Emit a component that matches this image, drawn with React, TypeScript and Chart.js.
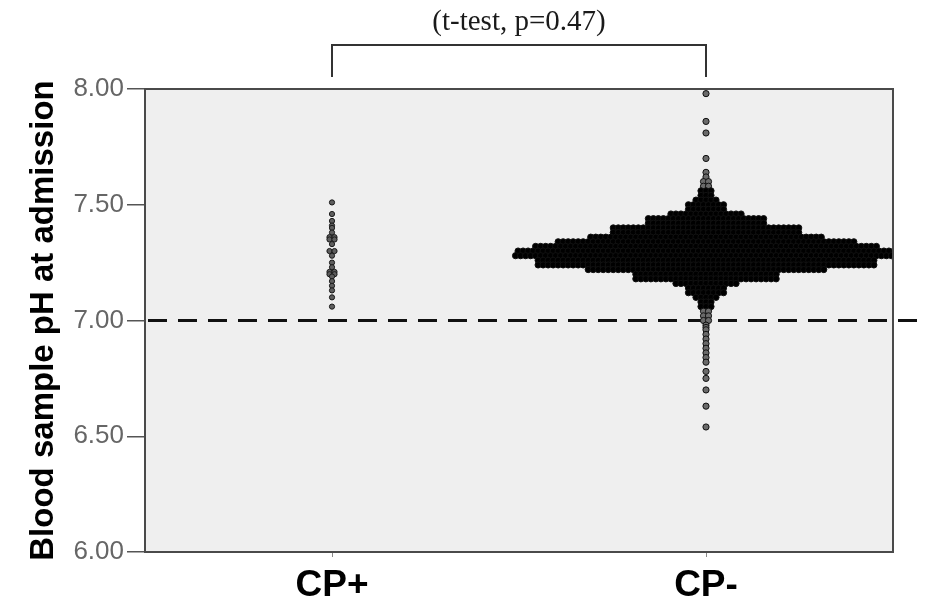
import React, { useEffect, useRef } from 'react';
import { Chart, registerables } from 'chart.js';

Chart.register(...registerables);

// ---- data ----
const CATEGORIES = ['CP+', 'CP-'];
const Y_TICKS = [6.0, 6.5, 7.0, 7.5, 8.0];
const REFERENCE_PH = 7.0;
const ANNOTATION = '(t-test, p=0.47)';
const Y_TITLE = 'Blood sample pH at admission';

// CP+ : pH bins and number of cases in each bin
const CP_PLUS_PH = [7.51, 7.46, 7.43, 7.41, 7.40, 7.38, 7.36, 7.35, 7.33, 7.30, 7.28, 7.25, 7.23, 7.21, 7.20, 7.19, 7.17, 7.15, 7.13, 7.10, 7.06];
const CP_PLUS_COUNT = [1, 1, 1, 1, 1, 1, 2, 2, 1, 2, 1, 1, 1, 2, 2, 1, 1, 1, 1, 1, 1];

// CP- : pH bins and number of cases in each bin
const CP_MINUS_PH = [
  7.98, 7.86, 7.81, 7.70, 7.64,
  7.62, 7.60, 7.58, 7.56, 7.54, 7.52, 7.50, 7.48, 7.46, 7.44, 7.42, 7.40, 7.38, 7.36, 7.34, 7.32,
  7.30, 7.28, 7.26, 7.24, 7.22, 7.20, 7.18, 7.16, 7.14, 7.12, 7.10, 7.08, 7.06, 7.04, 7.02, 7.00,
  6.98, 6.97, 6.96, 6.94, 6.92, 6.90, 6.88, 6.86, 6.84, 6.82, 6.78, 6.75, 6.70, 6.63, 6.54,
];
const CP_MINUS_COUNT = [
  1, 1, 1, 1, 1,
  1, 2, 2, 3, 3, 5, 8, 8, 15, 24, 24, 38, 38, 47, 60, 69,
  76, 77, 68, 68, 48, 29, 29, 13, 8, 8, 5, 3, 3, 2, 2, 2,
  1, 1, 1, 1, 1, 1, 1, 1, 1, 1, 1, 1, 1, 1, 1,
];

// ---- layout / style constants ----
const DOT_STEP = 0.0134; // horizontal spacing of stacked dots, in x-axis units

function dotColumn(center: number, phs: number[], counts: number[]) {
  const pts: { x: number; y: number }[] = [];
  const fills: string[] = [];
  phs.forEach((ph, i) => {
    const n = counts[i];
    for (let k = 0; k < n; k++) {
      pts.push({ x: center + (k - (n - 1) / 2) * DOT_STEP, y: ph });
      fills.push(n >= 3 ? '#000000' : '#6a6a6a');
    }
  });
  return { pts, fills };
}

const decorPlugin = {
  id: 'decor',
  beforeDraw(chart: any) {
    const { ctx, chartArea } = chart;
    const { left, top, right, bottom } = chartArea;
    ctx.save();
    ctx.fillStyle = '#ffffff';
    ctx.fillRect(0, 0, chart.width, chart.height);
    ctx.fillStyle = '#efefef';
    ctx.fillRect(left, top, right - left, bottom - top);
    ctx.restore();
  },
  beforeDatasetsDraw(chart: any) {
    const { ctx, chartArea, scales } = chart;
    const y = scales.y.getPixelForValue(REFERENCE_PH);
    ctx.save();
    ctx.strokeStyle = '#111';
    ctx.lineWidth = 3;
    ctx.setLineDash([19, 11]);
    ctx.beginPath();
    ctx.moveTo(chartArea.left + 3, y);
    ctx.lineTo(chartArea.right + 24, y);
    ctx.stroke();
    ctx.restore();
  },
  afterDatasetsDraw(chart: any) {
    const { ctx, chartArea, scales } = chart;
    const { left, top, right, bottom } = chartArea;
    ctx.save();
    // plot frame
    ctx.strokeStyle = '#4a4a4a';
    ctx.lineWidth = 2;
    ctx.strokeRect(left, top, right - left, bottom - top);
    // bracket
    const x1 = scales.x.getPixelForValue(0.5);
    const x2 = scales.x.getPixelForValue(1.5);
    ctx.strokeStyle = '#333';
    ctx.lineWidth = 2;
    ctx.beginPath();
    ctx.moveTo(x1, top - 12);
    ctx.lineTo(x1, top - 44);
    ctx.lineTo(x2, top - 44);
    ctx.lineTo(x2, top - 12);
    ctx.stroke();
    // annotation text
    ctx.fillStyle = '#1a1a1a';
    ctx.font = '29px "Liberation Serif", "Times New Roman", serif';
    ctx.textAlign = 'center';
    ctx.textBaseline = 'middle';
    ctx.fillText(ANNOTATION, (x1 + x2) / 2, top - 67);
    ctx.restore();
  },
};

export default function App() {
  const ref = useRef<HTMLCanvasElement | null>(null);

  useEffect(() => {
    if (!ref.current) return;
    const plus = dotColumn(0.5, CP_PLUS_PH, CP_PLUS_COUNT);
    const minus = dotColumn(1.5, CP_MINUS_PH, CP_MINUS_COUNT);
    const chart = new Chart(ref.current, {
      type: 'scatter',
      data: {
        datasets: [
          {
            label: CATEGORIES[0],
            data: plus.pts,
            backgroundColor: '#5e5e5e',
            borderColor: '#1a1a1a',
            borderWidth: 1,
            pointRadius: 2.6,
          },
          {
            label: CATEGORIES[1],
            data: minus.pts,
            backgroundColor: minus.fills,
            borderColor: '#111111',
            borderWidth: 1,
            pointRadius: 3.1,
          },
        ],
      },
      options: {
        responsive: false,
        animation: false,
        devicePixelRatio: 1,
        layout: { padding: { top: 89, right: 32, bottom: 0, left: 0 } },
        plugins: {
          legend: { display: false },
          tooltip: { enabled: false },
        },
        scales: {
          x: {
            type: 'linear',
            min: 0,
            max: 2,
            afterBuildTicks: (s: any) => {
              s.ticks = [{ value: 0.5 }, { value: 1.5 }];
            },
            afterFit: (s: any) => {
              s.height = 57;
            },
            ticks: {
              callback: (v: any) => CATEGORIES[Math.round(Number(v) - 0.5)],
              font: { family: '"Liberation Sans", Arial, sans-serif', size: 37, weight: 'bold' },
              color: '#000',
              padding: 7,
              maxRotation: 0,
            },
            grid: { drawOnChartArea: false, drawTicks: true, tickLength: 5, color: '#888', lineWidth: 1 },
            border: { display: true, color: '#4a4a4a', width: 2 },
          },
          y: {
            type: 'linear',
            min: 6,
            max: 8,
            afterBuildTicks: (s: any) => {
              s.ticks = Y_TICKS.map((v) => ({ value: v }));
            },
            afterFit: (s: any) => {
              s.width = 145;
            },
            ticks: {
              callback: (v: any) => Number(v).toFixed(2),
              font: { family: '"Liberation Sans", Arial, sans-serif', size: 26 },
              color: '#666',
              padding: 3,
            },
            grid: { drawOnChartArea: false, drawTicks: true, tickLength: 18, color: '#555', lineWidth: 1.5 },
            border: { display: true, color: '#4a4a4a', width: 2 },
            title: {
              display: true,
              text: Y_TITLE,
              font: { family: '"Liberation Sans", Arial, sans-serif', size: 33, weight: 'bold' },
              color: '#000',
              padding: { top: 24, bottom: 0 },
            },
          },
        },
      },
      plugins: [decorPlugin],
    } as any);
    return () => chart.destroy();
  }, []);

  return (
    <div style={{ position: 'absolute', left: 0, top: 0, width: 925, height: 609, background: '#fff' }}>
      <canvas ref={ref} width={925} height={609} style={{ display: 'block' }} />
    </div>
  );
}
